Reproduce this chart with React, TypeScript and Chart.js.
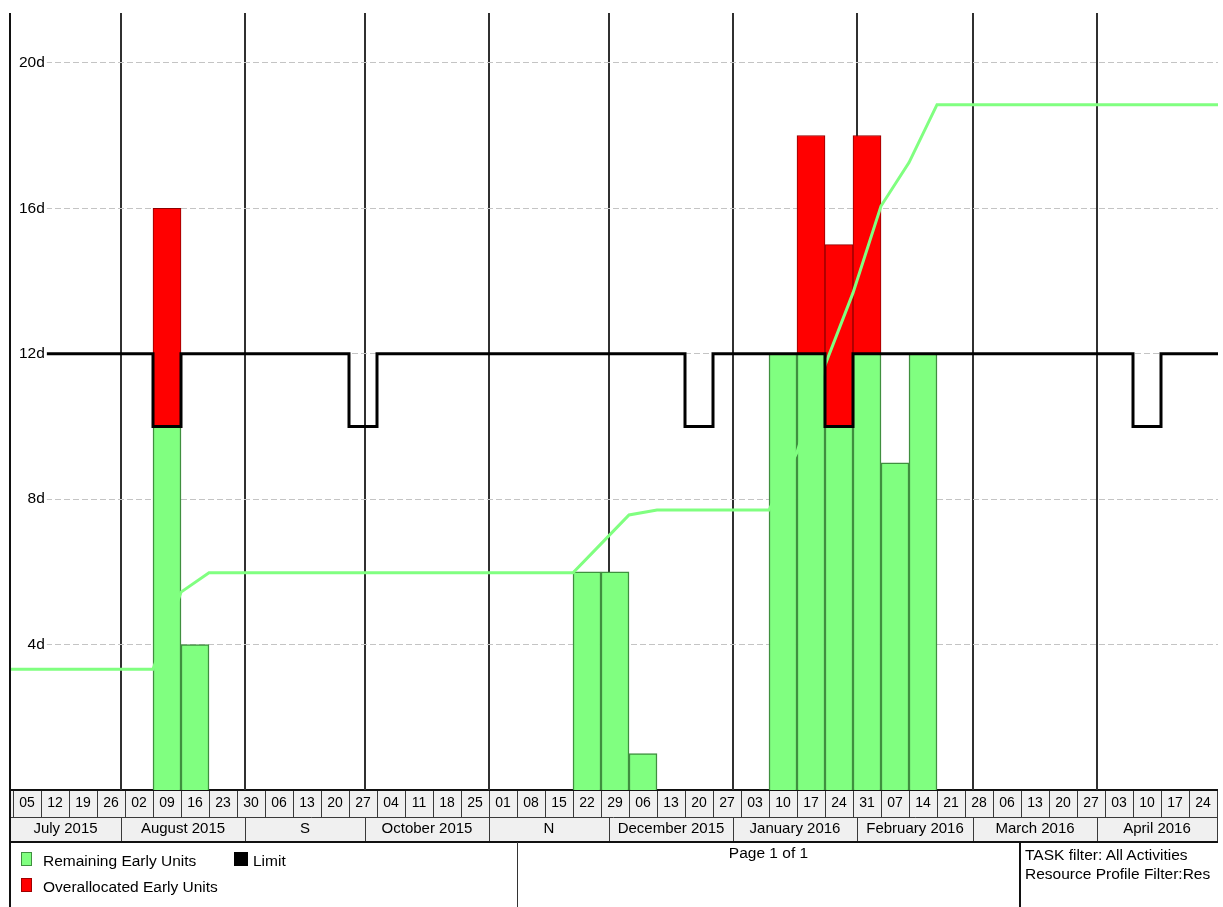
import { useEffect, useRef } from 'react';
import { Chart, registerables } from 'chart.js';

Chart.register(...registerables);

// ---------------- data ----------------
const FIRST_WEEK_START = '2015-07-05';

const weekLabels = [
  '05', '12', '19', '26',
  '02', '09', '16', '23', '30',
  '06', '13', '20', '27',
  '04', '11', '18', '25',
  '01', '08', '15', '22', '29',
  '06', '13', '20', '27',
  '03', '10', '17', '24', '31',
  '07', '14', '21', '28',
  '06', '13', '20', '27',
  '03', '10', '17', '24',
];

// green part of each weekly bar (up to the limit)
const remainingEarlyUnits = [
  null, null, null, null,
  null, 10, 4, null, null,
  null, null, null, null,
  null, null, null, null,
  null, null, null, 6, 6,
  1, null, null, null,
  null, 12, 12, 10, 12,
  9, 12, null, null,
  null, null, null, null,
  null, null, null, null,
];

// red part of each weekly bar (above the limit)
const overallocatedEarlyUnits = [
  null, null, null, null,
  null, 6, null, null, null,
  null, null, null, null,
  null, null, null, null,
  null, null, null, null, null,
  null, null, null, null,
  null, null, 6, 5, 6,
  null, null, null, null,
  null, null, null, null,
  null, null, null, null,
];

// weekly limit
const limitUnits = [
  12, 12, 12, 12,
  12, 10, 12, 12, 12,
  12, 12, 12, 10,
  12, 12, 12, 12,
  12, 12, 12, 12, 12,
  12, 12, 10, 12,
  12, 12, 12, 10, 12,
  12, 12, 12, 12,
  12, 12, 12, 12,
  12, 10, 12, 12,
];

// cumulative remaining early units at each week boundary (44 boundaries)
const cumulativeUnits = [
  25, 25, 25, 25,
  25, 25, 41, 45, 45,
  45, 45, 45, 45,
  45, 45, 45, 45,
  45, 45, 45, 45, 51,
  57, 58, 58, 58,
  58, 58, 70, 88, 103,
  121, 130, 142, 142,
  142, 142, 142, 142,
  142, 142, 142, 142,
  142,
];

const monthLabels = [
  'July 2015', 'August 2015', 'S', 'October 2015', 'N',
  'December 2015', 'January 2016', 'February 2016', 'March 2016', 'April 2016',
];
const monthStartDates = [
  '2015-07-01', '2015-08-01', '2015-09-01', '2015-10-01', '2015-11-01', '2015-12-01',
  '2016-01-01', '2016-02-01', '2016-03-01', '2016-04-01', '2016-05-01',
];

const yTickValues = [4, 8, 12, 16, 20];
const Y_UNIT = 'd';

// ---------------- axis bounds ----------------
const X_MIN = -0.75;
const X_MAX = 301.25;
const Y_MAX = 21.37;
const CUM_MAX = 161;

const DAY_MS = 86400000;
const dayOf = (d: string) => (Date.parse(d) - Date.parse(FIRST_WEEK_START)) / DAY_MS;
const weekStart = (i: number) => i * 7;
const weekMid = (i: number) => i * 7 + 3.5;
const WEEK_END = weekStart(weekLabels.length);
const monthDays = monthStartDates.map(dayOf);

const monthTicks: any[] = [];
monthLabels.forEach((label, i) => {
  const a = Math.max(monthDays[i], X_MIN);
  const b = Math.min(monthDays[i + 1], WEEK_END);
  monthTicks.push({ value: (a + b) / 2, text: label, boundary: false });
  if (i > 0) monthTicks.push({ value: monthDays[i], text: '', boundary: true });
});
monthTicks.sort((p, q) => p.value - q.value);

const SANS = "'Liberation Sans', Arial, sans-serif";

const barData = (arr: (number | null)[]) => weekLabels.map((_, i) => ({ x: weekMid(i), y: arr[i] }));

const limitData = [
  { x: X_MIN, y: limitUnits[0] },
  ...limitUnits.map((v, i) => ({ x: weekStart(i), y: v })),
  { x: X_MAX, y: limitUnits[limitUnits.length - 1] },
];

const cumulativeData = [
  { x: X_MIN, y: cumulativeUnits[0] },
  ...cumulativeUnits.map((v, i) => ({ x: weekStart(i), y: v })),
  { x: X_MAX, y: cumulativeUnits[cumulativeUnits.length - 1] },
];

// header rows (week cells / month cells) and frame lines
const headerPlugin = {
  id: 'p6Header',
  beforeDraw(chart: any) {
    const { ctx, chartArea, scales } = chart;
    const xs = scales.x;
    const xm = scales.xm;
    const left = chartArea.left;
    const right = Math.round(xs.getPixelForValue(WEEK_END));
    ctx.save();
    ctx.fillStyle = '#f0f0f0';
    ctx.fillRect(left, xs.top, right - left, xm.bottom - xs.top);
    ctx.strokeStyle = '#3a3a3a';
    ctx.lineWidth = 1;
    ctx.beginPath();
    for (let k = 0; k <= weekLabels.length; k++) {
      const px = Math.round(xs.getPixelForValue(weekStart(k))) + 0.5;
      ctx.moveTo(px, xs.top);
      ctx.lineTo(px, xs.bottom);
    }
    monthDays.forEach((d) => {
      if (d <= X_MIN || d > WEEK_END) return;
      const px = Math.round(xs.getPixelForValue(d)) + 0.5;
      ctx.moveTo(px, xm.top);
      ctx.lineTo(px, xm.bottom);
    });
    ctx.moveTo(left, Math.round(xs.bottom) + 0.5);
    ctx.lineTo(right, Math.round(xs.bottom) + 0.5);
    ctx.stroke();
    ctx.lineWidth = 2;
    ctx.strokeStyle = '#111';
    ctx.beginPath();
    ctx.moveTo(left, Math.round(xs.top));
    ctx.lineTo(right + 1, Math.round(xs.top));
    ctx.moveTo(left, Math.round(xm.bottom));
    ctx.lineTo(right + 1, Math.round(xm.bottom));
    ctx.stroke();
    ctx.restore();
  },
  afterDraw(chart: any) {
    const { ctx, chartArea } = chart;
    ctx.save();
    ctx.strokeStyle = '#111';
    ctx.lineWidth = 2;
    ctx.beginPath();
    ctx.moveTo(Math.round(chartArea.left), chartArea.top);
    ctx.lineTo(Math.round(chartArea.left), chart.height);
    ctx.stroke();
    ctx.restore();
  },
};

export default function App() {
  const ref = useRef<HTMLCanvasElement>(null);

  useEffect(() => {
    const config: any = {
      type: 'bar',
      data: {
        datasets: [
          {
            type: 'line',
            label: 'Limit',
            data: limitData,
            xAxisID: 'x',
            yAxisID: 'y',
            borderColor: '#000000',
            borderWidth: 3,
            stepped: true,
            pointRadius: 0,
            fill: false,
            borderJoinStyle: 'miter',
            order: 0,
          },
          {
            type: 'line',
            label: 'Cumulative Remaining Early Units',
            data: cumulativeData,
            xAxisID: 'x',
            yAxisID: 'y2',
            borderColor: '#80ff80',
            borderWidth: 3,
            pointRadius: 0,
            tension: 0,
            fill: false,
            order: 1,
          },
          {
            type: 'bar',
            label: 'Remaining Early Units',
            data: barData(remainingEarlyUnits),
            xAxisID: 'x',
            yAxisID: 'y',
            stack: 'units',
            backgroundColor: '#80ff80',
            borderColor: '#3f8f3f',
            borderWidth: 1.5,
            categoryPercentage: 1,
            barPercentage: 1,
            order: 2,
          },
          {
            type: 'bar',
            label: 'Overallocated Early Units',
            data: barData(overallocatedEarlyUnits),
            xAxisID: 'x',
            yAxisID: 'y',
            stack: 'units',
            backgroundColor: '#ff0000',
            borderColor: '#8f0000',
            borderWidth: 1,
            categoryPercentage: 1,
            barPercentage: 1,
            order: 2,
          },
        ],
      },
      options: {
        responsive: false,
        animation: false,
        devicePixelRatio: 1,
        events: [],
        layout: { padding: { left: 10, right: 5, top: 13, bottom: 65 } },
        plugins: { legend: { display: false }, tooltip: { enabled: false } },
        scales: {
          x: {
            type: 'linear',
            position: 'bottom',
            min: X_MIN,
            max: X_MAX,
            offset: false,
            weight: 0,
            grid: { display: false, drawTicks: false, offset: false },
            border: { display: false },
            afterBuildTicks: (s: any) => {
              s.ticks = weekLabels.map((_, i) => ({ value: weekMid(i) }));
            },
            afterFit: (s: any) => {
              s.height = 27;
              s.paddingLeft = 0;
              s.paddingRight = 0;
            },
            ticks: {
              autoSkip: false,
              maxRotation: 0,
              minRotation: 0,
              padding: 5,
              color: '#000',
              font: { family: SANS, size: 14 },
              callback: (_v: any, i: number) => weekLabels[i],
            },
          },
          xm: {
            type: 'linear',
            axis: 'x',
            position: 'bottom',
            min: X_MIN,
            max: X_MAX,
            offset: false,
            weight: 1,
            grid: {
              display: true,
              drawTicks: false,
              drawOnChartArea: true,
              offset: false,
              color: '#303030',
              lineWidth: (c: any) => (c.tick && c.tick.boundary ? 2 : 0),
            },
            border: { display: false },
            afterBuildTicks: (s: any) => {
              s.ticks = monthTicks.map((t) => ({ ...t }));
            },
            afterFit: (s: any) => {
              s.height = 25;
              s.paddingLeft = 0;
              s.paddingRight = 0;
            },
            ticks: {
              autoSkip: false,
              maxRotation: 0,
              minRotation: 0,
              padding: 3,
              color: '#000',
              font: { family: SANS, size: 15 },
              callback: (_v: any, i: number, ticks: any[]) => ticks[i].text,
            },
          },
          y: {
            type: 'linear',
            position: 'left',
            min: 0,
            max: Y_MAX,
            grid: { color: '#c4c4c4', lineWidth: 1, drawTicks: false },
            border: { display: false, dash: [6, 3] },
            afterBuildTicks: (s: any) => {
              s.ticks = yTickValues.map((v) => ({ value: v }));
            },
            afterFit: (s: any) => {
              s.width = 0;
              s.paddingTop = 0;
              s.paddingBottom = 0;
            },
            ticks: {
              mirror: true,
              crossAlign: 'far',
              padding: 9,
              z: 1,
              color: '#000',
              font: { family: SANS, size: 15.5 },
              showLabelBackdrop: true,
              backdropColor: '#ffffff',
              backdropPadding: { top: 1, bottom: 1, left: 20, right: 2 },
              callback: (v: any) => `${v}${Y_UNIT}`,
            },
          },
          y2: { type: 'linear', display: false, min: 0, max: CUM_MAX },
        },
      },
      plugins: [headerPlugin],
    };
    const chart = new Chart(ref.current as HTMLCanvasElement, config);
    return () => chart.destroy();
  }, []);

  const txt: any = {
    position: 'absolute',
    whiteSpace: 'nowrap',
    fontFamily: SANS,
    fontSize: 15.5,
    lineHeight: '18px',
    color: '#000',
  };

  return (
    <div
      style={{
        position: 'absolute',
        left: 0,
        top: 0,
        width: 1223,
        height: 907,
        background: '#fff',
        overflow: 'hidden',
      }}
    >
      <canvas ref={ref} width={1223} height={907} style={{ display: 'block', width: 1223, height: 907 }} />
      {/* footer dividers */}
      <div style={{ position: 'absolute', left: 517, top: 842, width: 1, height: 65, background: '#333' }} />
      <div style={{ position: 'absolute', left: 1019, top: 842, width: 2, height: 65, background: '#111' }} />
      {/* legend */}
      <div
        style={{
          position: 'absolute', left: 21, top: 852, width: 11, height: 14, boxSizing: 'border-box',
          background: '#80ff80', border: '1px solid #3f8f3f',
        }}
      />
      <div style={{ ...txt, left: 43, top: 851.5 }}>Remaining Early Units</div>
      <div style={{ position: 'absolute', left: 234, top: 852, width: 14, height: 14, background: '#000' }} />
      <div style={{ ...txt, left: 253, top: 851.5 }}>Limit</div>
      <div
        style={{
          position: 'absolute', left: 21, top: 878, width: 11, height: 14, boxSizing: 'border-box',
          background: '#ff0000', border: '1px solid #a00000',
        }}
      />
      <div style={{ ...txt, left: 43, top: 877.5 }}>Overallocated Early Units</div>
      {/* page info */}
      <div style={{ ...txt, left: 518, width: 501, textAlign: 'center', top: 843.5 }}>Page 1 of 1</div>
      <div style={{ ...txt, left: 1025, top: 845.5 }}>TASK filter: All Activities</div>
      <div style={{ ...txt, left: 1025, top: 865 }}>Resource Profile Filter:Res</div>
    </div>
  );
}
